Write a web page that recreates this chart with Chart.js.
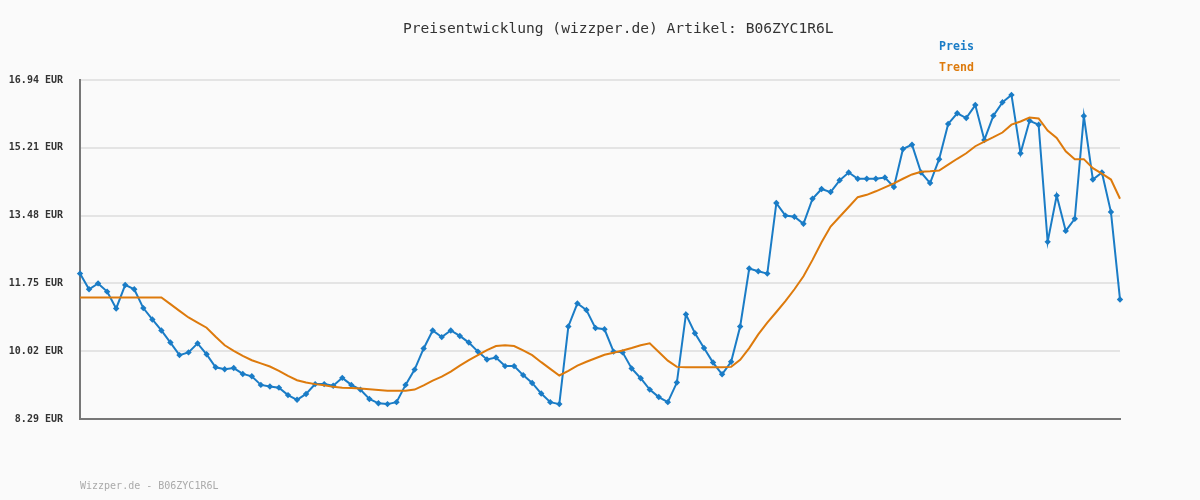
<!DOCTYPE html>
<html lang="de">
<head>
<meta charset="UTF-8">
<title>Preisentwicklung</title>
<script src="https://cdn.jsdelivr.net/npm/chart.js@4/dist/chart.umd.min.js"></script>
<style>
  html, body { margin: 0; padding: 0; background: #fafafa; }
  #wrap { position: relative; width: 1200px; height: 500px; font-family: "DejaVu Sans Mono", monospace; }
  canvas { position: absolute; left: 0; top: 0; }
  .title { position: absolute; left: 403px; top: 19px; font-size: 14.6px; color: #333; white-space: nowrap; }
  .leg { position: absolute; left: 939px; font-size: 11.6px; font-weight: bold; white-space: nowrap; }
  .foot { position: absolute; left: 80px; top: 480px; font-size: 10px; color: #aaa; white-space: nowrap; }
</style>
</head>
<body>
<div id="wrap">
  <canvas id="chart" width="1200" height="500"></canvas>
  <div class="title">Preisentwicklung (wizzper.de) Artikel: B06ZYC1R6L</div>
  <div class="leg" style="top:39px;color:#1a7cc6">Preis</div>
  <div class="leg" style="top:60px;color:#dd7a0c">Trend</div>
  <div class="foot">Wizzper.de - B06ZYC1R6L</div>
</div>
<script>
// Preis (EUR), one value per day
const preis = [
  12.00, 11.60, 11.75, 11.54, 11.11, 11.71, 11.60, 11.12, 10.83, 10.55,
  10.24, 9.92, 9.99, 10.22, 9.94, 9.61, 9.56, 9.59, 9.44, 9.38,
  9.16, 9.12, 9.09, 8.90, 8.78, 8.93, 9.18, 9.18, 9.14, 9.34,
  9.16, 9.04, 8.80, 8.69, 8.67, 8.72, 9.16, 9.55, 10.09, 10.55,
  10.38, 10.55, 10.41, 10.24, 10.01, 9.81, 9.86, 9.64, 9.64, 9.41,
  9.21, 8.94, 8.72, 8.67, 10.65, 11.24, 11.07, 10.61, 10.58, 10.01,
  9.99, 9.58, 9.33, 9.04, 8.85, 8.72, 9.22, 10.96, 10.48, 10.10,
  9.73, 9.43, 9.75, 10.65, 12.13, 12.06, 12.00, 13.80, 13.48, 13.45,
  13.27, 13.91, 14.16, 14.08, 14.38, 14.58, 14.42, 14.42, 14.42, 14.45,
  14.21, 15.18, 15.29, 14.58, 14.31, 14.92, 15.82, 16.09, 15.97, 16.30,
  15.41, 16.03, 16.37, 16.56, 15.07, 15.90, 15.80, 12.81, 13.99, 13.09,
  13.40, 16.02, 14.40, 14.58, 13.57, 11.34
];

// Trend (EUR)
const trend = [
  11.39, 11.39, 11.39, 11.39, 11.39, 11.39, 11.39, 11.39, 11.39, 11.39,
  11.22, 11.05, 10.88, 10.75, 10.62, 10.39, 10.17, 10.03, 9.90, 9.79,
  9.71, 9.63, 9.52, 9.39, 9.28, 9.22, 9.18, 9.15, 9.11, 9.09,
  9.08, 9.07, 9.05, 9.03, 9.01, 9.01, 9.01, 9.04, 9.15, 9.27,
  9.37, 9.50, 9.65, 9.79, 9.92, 10.05, 10.15, 10.17, 10.15, 10.04,
  9.92, 9.74, 9.57, 9.40, 9.52, 9.65, 9.75, 9.84, 9.93, 9.98,
  10.04, 10.10, 10.17, 10.22, 10.00, 9.78, 9.62, 9.61, 9.61, 9.61,
  9.61, 9.61, 9.62, 9.80, 10.10, 10.45, 10.75, 11.02, 11.30, 11.60,
  11.93, 12.35, 12.80, 13.20, 13.45, 13.70, 13.95, 14.01, 14.10, 14.20,
  14.30, 14.42, 14.53, 14.60, 14.61, 14.63, 14.78, 14.93, 15.07, 15.25,
  15.37, 15.48, 15.60, 15.80, 15.88, 15.98, 15.96, 15.65, 15.46, 15.12,
  14.92, 14.92, 14.69, 14.55, 14.40, 13.91
];

const yTicks = [8.29, 10.02, 11.75, 13.48, 15.21, 16.94];
const labels = preis.map((_, i) => String(i + 1));

new Chart(document.getElementById('chart'), {
  type: 'line',
  data: {
    labels,
    datasets: [
      {
        label: 'Trend',
        data: trend,
        borderColor: '#dd7a0c',
        borderWidth: 2,
        pointRadius: 0,
        tension: 0
      },
      {
        label: 'Preis',
        data: preis,
        borderColor: '#1a7cc6',
        backgroundColor: '#1a7cc6',
        borderWidth: 2,
        pointStyle: 'rectRot',
        pointRadius: 1.8,
        tension: 0
      }
    ]
  },
  options: {
    responsive: false,
    animation: false,
    layout: { padding: { top: 80, right: 80, bottom: 81, left: 0 } },
    plugins: { legend: { display: false }, title: { display: false }, tooltip: { enabled: false } },
    scales: {
      x: {
        offset: false,
        ticks: { display: false },
        grid: { display: false, drawTicks: false },
        border: { color: '#777', width: 2 },
        afterFit: (scale) => { scale.height = 0; }
      },
      y: {
        min: 8.29,
        max: 16.94,
        afterBuildTicks: (scale) => { scale.ticks = yTicks.map(v => ({ value: v })); },
        afterFit: (scale) => { scale.width = 80; },
        ticks: {
          padding: 17,
          color: '#333',
          font: { family: 'DejaVu Sans Mono', size: 10, weight: 'bold' },
          callback: (v) => Number(v).toFixed(2) + ' EUR'
        },
        grid: { color: '#e4e4e4', lineWidth: 2, drawTicks: false },
        border: { color: '#777', width: 2 }
      }
    }
  }
});
</script>
</body>
</html>
